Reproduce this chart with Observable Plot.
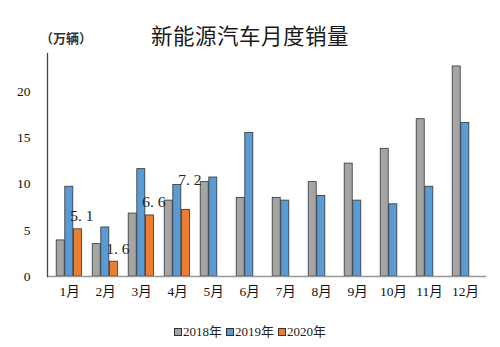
<!DOCTYPE html>
<html><head><meta charset="utf-8">
<script src="https://cdn.jsdelivr.net/npm/d3@7"></script>
<script src="https://cdn.jsdelivr.net/npm/@observablehq/plot@0.6"></script>
<style>
body{margin:0;background:#fff;}
#wrap{position:relative;width:500px;height:347px;font-family:"Liberation Serif","Noto Sans CJK SC",serif;}
#title{position:absolute;left:0;width:500px;top:19px;text-align:center;font-family:"Noto Sans CJK SC",sans-serif;font-size:21.5px;font-weight:normal;color:#1a1a1a;letter-spacing:0.5px;}
#unit{position:absolute;left:40px;top:28px;font-family:"Noto Sans CJK SC",sans-serif;font-size:13px;font-weight:bold;color:#333;}
#legend{position:absolute;left:0;width:500px;top:321px;text-align:center;font-size:13px;color:#222;}
#legend span{margin:0 2px;}
#legend i{display:inline-block;width:6px;height:6px;border:1px solid #333;margin-right:1px;vertical-align:0px;}
</style></head>
<body><div id="wrap"><div id="title">新能源汽车月度销量</div><div id="unit">（万辆）</div><div id="legend"></div></div>
<script>
const months = ["1月","2月","3月","4月","5月","6月","7月","8月","9月","10月","11月","12月"];
const sales2018 = [3.9,3.5,6.8,8.2,10.2,8.5,8.5,10.2,12.2,13.8,17.0,22.7];
const sales2019 = [9.7,5.3,11.6,9.9,10.7,15.5,8.2,8.7,8.2,7.8,9.7,16.6];
const sales2020 = [5.1,1.6,6.6,7.2];
const seriesNames = ["2018年","2019年","2020年"];
const colors = ["#a5a5a5","#5b9bd5","#ed7d31"];
const yTicks = [0,5,10,15,20];

const W = 500, H = 347, ml = 47, mr = 14, mt = 53, mb = 71;
const bw = (W - ml - mr) / months.length;
const barW = 8.6, off0 = 5.2;

const toRows = arr => arr.map((v,i)=>({month: months[i], value: v}));
const series = [sales2018, sales2019, sales2020].map(toRows);

const barMarks = series.map((rows, k) => Plot.barY(rows, {
  x: "month", y: "value", fill: colors[k], stroke: "#333", strokeWidth: 0.8,
  insetLeft: off0 + k*barW, insetRight: bw - off0 - (k+1)*barW
}));

const labelRows = series[2];
const lblStyle = {x:"month", y:"value", text: d => d.value.toFixed(1).replace(".", ". "),
  dx: off0 + 2.5*barW - bw/2 + 4, fontSize: 15.5, fill:"#222", fontFamily:"Liberation Serif"};

const plot = Plot.plot({
  width: W, height: H, marginLeft: ml, marginRight: mr, marginTop: mt, marginBottom: mb,
  style: {fontFamily: "'Liberation Serif','Noto Sans CJK SC',serif", fontSize: "13.5px", color:"#111", background:"transparent"},
  x: {domain: months, padding: 0, tickSize: 0, tickPadding: 10, label: null},
  y: {domain: [0, 24.1], ticks: yTicks, tickSize: 0, tickPadding: 17, label: null},
  marks: [
    ...barMarks,
    Plot.ruleY([0], {stroke: "#999", strokeWidth: 1.4}),
    Plot.frame({anchor: "left", stroke: "#444", strokeWidth: 1.3}),
    Plot.text(labelRows.filter(d=>d.month!=="4月"), {...lblStyle, dy: -13}),
    Plot.text(labelRows.filter(d=>d.month==="4月"), {...lblStyle, dy: -30}),
  ]
});
document.getElementById("wrap").prepend(plot);
plot.style.position = "absolute"; plot.style.left = "0"; plot.style.top = "0";

const leg = document.getElementById("legend");
seriesNames.forEach((n,k)=>{
  const s = document.createElement("span");
  s.innerHTML = `<i style="background:${colors[k]}"></i>${n}`;
  leg.appendChild(s);
});
</script></body></html>
